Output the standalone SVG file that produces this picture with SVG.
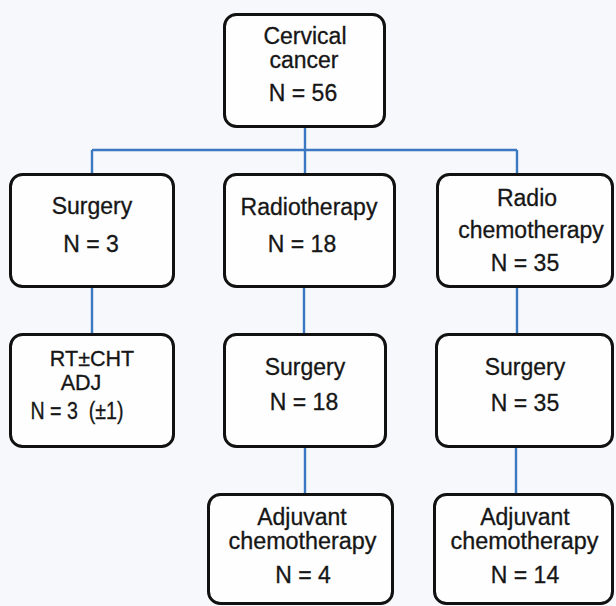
<svg xmlns="http://www.w3.org/2000/svg" width="616" height="606" viewBox="0 0 616 606">
<style>
.box{fill:#fefefe;stroke:#111;stroke-width:3;}
.t{font-family:"Liberation Sans",Arial,sans-serif;font-size:23px;fill:#161616;stroke:#161616;stroke-width:0.3;text-anchor:middle;}
.s{font-size:21.5px;}
.c{fill:none;stroke:#3b78c2;stroke-width:2.4;}
</style>
<rect width="616" height="606" fill="#f7f8fc"/>
<g id="connectors">
<path class="c" d="M305,128V150M92,150H517M92,150V174M305,150V174M517,150V174"/>
<path class="c" d="M92,288V334M304,288V334M517,288V334"/>
<path class="c" d="M305,448V494M516,448V494"/>
</g>
<g id="n-cervical">
<rect class="box" x="224.5" y="14.5" width="160" height="112" rx="12"/>
<text class="t" x="305" y="44">Cervical</text>
<text class="t" x="304" y="68">cancer</text>
<text class="t" x="303" y="101">N = 56</text>
</g>
<g id="n-surgery1">
<rect class="box" x="10.5" y="174.5" width="163" height="112" rx="12"/>
<text class="t" x="92" y="214">Surgery</text>
<text class="t" x="91" y="252">N = 3</text>
</g>
<g id="n-radiotherapy">
<rect class="box" x="224.5" y="174.5" width="170" height="112" rx="12"/>
<text class="t" x="309" y="215">Radiotherapy</text>
<text class="t" x="302" y="252">N = 18</text>
</g>
<g id="n-radiochemo">
<rect class="box" x="437.5" y="174.5" width="175" height="112" rx="12"/>
<text class="t" x="527" y="206">Radio</text>
<text class="t" x="531" y="238">chemotherapy</text>
<text class="t" x="525" y="271">N = 35</text>
</g>
<g id="n-rtcht">
<rect class="box" x="10.5" y="334.5" width="163" height="112" rx="12"/>
<text class="t s" x="92" y="366">RT±CHT</text>
<text class="t s" x="81" y="390">ADJ</text>
<text class="t" x="77" y="419" textLength="93" lengthAdjust="spacingAndGlyphs" xml:space="preserve">N = 3  (±1)</text>
</g>
<g id="n-surgery2">
<rect class="box" x="224.5" y="334.5" width="161" height="112" rx="12"/>
<text class="t" x="305" y="375">Surgery</text>
<text class="t" x="304" y="410">N = 18</text>
</g>
<g id="n-surgery3">
<rect class="box" x="436.5" y="334.5" width="176" height="112" rx="12"/>
<text class="t" x="525" y="375">Surgery</text>
<text class="t" x="525" y="411">N = 35</text>
</g>
<g id="n-adj1">
<rect class="box" x="208.5" y="494.5" width="184" height="109" rx="12"/>
<text class="t" x="302" y="525">Adjuvant</text>
<text class="t" x="302.5" y="549" textLength="148" lengthAdjust="spacingAndGlyphs">chemotherapy</text>
<text class="t" x="303" y="583">N = 4</text>
</g>
<g id="n-adj2">
<rect class="box" x="434.5" y="494.5" width="178" height="109" rx="12"/>
<text class="t" x="525" y="525">Adjuvant</text>
<text class="t" x="524.5" y="549" textLength="148" lengthAdjust="spacingAndGlyphs">chemotherapy</text>
<text class="t" x="525" y="583">N = 14</text>
</g>
</svg>
